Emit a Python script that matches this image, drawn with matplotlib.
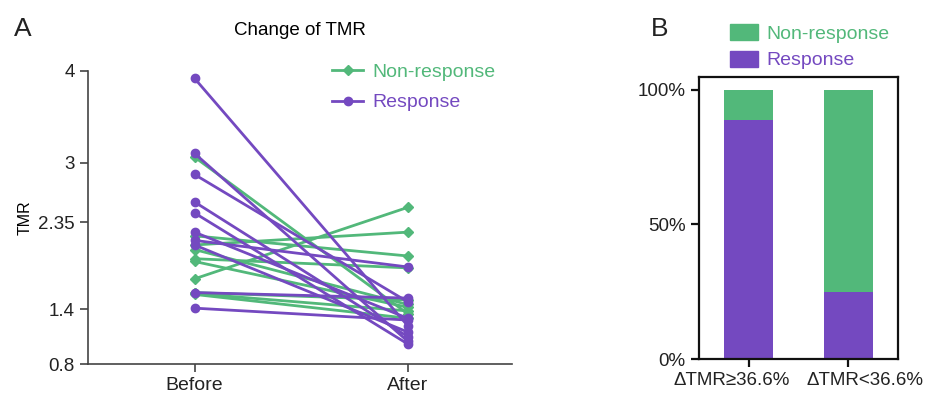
#!/usr/bin/env python3
import matplotlib
matplotlib.use("Agg")
import matplotlib.pyplot as plt
import matplotlib.transforms as mtransforms
import numpy as np
from matplotlib.patches import Patch
from matplotlib.lines import Line2D

plt.rcParams["font.family"] = ["Liberation Sans", "DejaVu Sans"]

GREEN = "#52B87A"
PURPLE = "#7449C0"
AXIS_COLOR = "#444444"

# ---------------------------------------------------------------------------
# Data
# ---------------------------------------------------------------------------
timepoints = ["Before", "After"]

response_before = [3.92, 3.10, 2.87, 2.57, 2.45, 2.24, 2.15, 2.10, 1.58, 1.41]
response_after = [1.22, 1.05, 1.48, 1.10, 1.02, 1.30, 1.86, 1.15, 1.52, 1.28]

nonresp_before = [3.06, 2.20, 2.10, 1.95, 1.92, 1.73, 1.58, 1.57, 1.56, 2.05]
nonresp_after = [1.35, 1.98, 2.24, 1.85, 1.42, 2.51, 1.50, 1.38, 1.30, 1.45]

y_ticks = [0.8, 1.4, 2.35, 3, 4]
y_ticklabels = ["0.8", "1.4", "2.35", "3", "4"]

groups = ["\u0394TMR\u226536.6%", "\u0394TMR<36.6%"]
pct_response = [88.9, 25.0]
pct_nonresponse = [11.1, 75.0]

# ---------------------------------------------------------------------------
# Figure
# ---------------------------------------------------------------------------
fig = plt.figure(figsize=(9.27, 3.97), dpi=100)

# Panel A -------------------------------------------------------------------
ax = fig.add_axes([0.0949, 0.0831, 0.4574, 0.7381])
x = np.arange(len(timepoints))

for b, a in zip(nonresp_before, nonresp_after):
    ax.plot(x, [b, a], color=GREEN, lw=2.0, marker="D", ms=5.5,
            mec=GREEN, mfc=GREEN, zorder=2)
for b, a in zip(response_before, response_after):
    ax.plot(x, [b, a], color=PURPLE, lw=2.0, marker="o", ms=6,
            mec=PURPLE, mfc=PURPLE, zorder=3)

ax.set_xlim(-0.5, 1.49)
ax.set_ylim(0.8, 4)
ax.set_xticks(x)
ax.set_xticklabels(timepoints, fontsize=14)
ax.set_yticks(y_ticks)
ax.set_yticklabels(y_ticklabels, fontsize=13.5)
ax.set_ylabel("TMR", fontsize=11.5, labelpad=4)
ax.set_title("Change of TMR", fontsize=13.5, pad=26)
for side in ["top", "right"]:
    ax.spines[side].set_visible(False)
for side in ["left", "bottom"]:
    ax.spines[side].set_color(AXIS_COLOR)
    ax.spines[side].set_linewidth(1.2)
ax.tick_params(colors=AXIS_COLOR, labelcolor="#222222", length=6, width=1.2)

handles = [
    Line2D([], [], color=GREEN, lw=2.0, marker="D", ms=5.5),
    Line2D([], [], color=PURPLE, lw=2.0, marker="o", ms=6),
]
leg = ax.legend(handles, ["Non-response", "Response"], loc="upper left",
                bbox_to_anchor=(0.535, 1.085), frameon=False, fontsize=14,
                handlelength=1.6, handletextpad=0.45, labelspacing=0.65)
for txt, c in zip(leg.get_texts(), [GREEN, PURPLE]):
    txt.set_color(c)

fig.text(0.015, 0.91, "A", fontsize=19, color="#222222")

# Panel B -------------------------------------------------------------------
bx = fig.add_axes([0.754, 0.0957, 0.215, 0.7103])
xb = np.arange(len(groups))
bx.bar(xb, pct_response, width=0.49, color=PURPLE, label="Response")
bx.bar(xb, pct_nonresponse, width=0.49, bottom=pct_response, color=GREEN,
       label="Non-response")
bx.set_xlim(-0.5, 1.5)
bx.set_ylim(0, 104.8)
bx.set_yticks([0, 50, 100])
bx.set_yticklabels(["0%", "50%", "100%"], fontsize=13.5)
bx.set_xticks(xb)
bx.set_xticklabels(groups, fontsize=13.5)
for side in bx.spines:
    bx.spines[side].set_color("#111111")
    bx.spines[side].set_linewidth(1.6)
bx.tick_params(colors="#111111", labelcolor="#222222", length=6, width=1.6)

# spread the two long category labels apart so they do not collide
for lbl, dx in zip(bx.get_xticklabels(), [-0.17, 0.17]):
    lbl.set_transform(lbl.get_transform()
                      + mtransforms.ScaledTranslation(dx, 0, fig.dpi_scale_trans))

leg_b = bx.legend([Patch(color=GREEN), Patch(color=PURPLE)],
                  ["Non-response", "Response"], loc="lower left",
                  bbox_to_anchor=(0.07, 0.965), frameon=False, fontsize=14,
                  handlelength=1.4, handleheight=0.9, handletextpad=0.45,
                  labelspacing=0.4)
for txt, c in zip(leg_b.get_texts(), [GREEN, PURPLE]):
    txt.set_color(c)

fig.text(0.702, 0.91, "B", fontsize=19, color="#222222")

plt.savefig("out.png", dpi=100)
plt.close()
